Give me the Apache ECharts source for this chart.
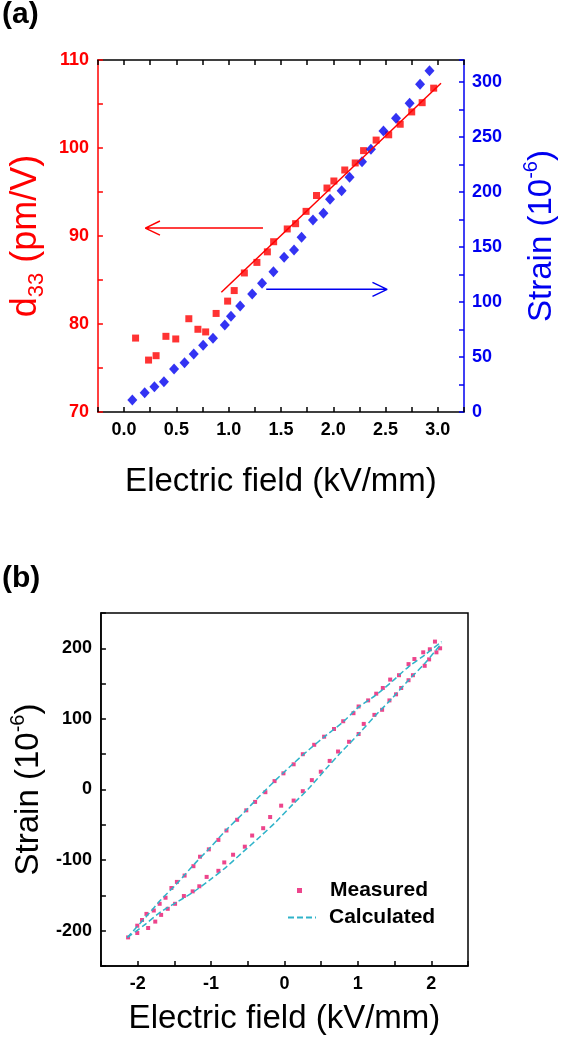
<!DOCTYPE html>
<html>
<head>
<meta charset="utf-8">
<script src="https://cdn.jsdelivr.net/npm/echarts@6/dist/echarts.min.js"></script>
<style>html,body{margin:0;padding:0;background:#fff;}#c{width:566px;height:1050px;}</style>
</head>
<body>
<div id="c"></div>
<script>
// ---------- Panel (a) data ----------
const d33X = [0.11,0.234,0.306,0.40,0.494,0.619,0.706,0.78,0.88,0.99,1.053,1.15,1.27,1.37,1.43,1.56,1.64,1.74,1.84,1.94,2.006,2.11,2.21,2.29,2.41,2.53,2.64,2.75,2.85,2.96];
const d33Y = [78.4,75.9,76.4,78.6,78.3,80.6,79.4,79.1,81.2,82.6,83.8,85.8,87.0,88.2,89.35,90.8,91.4,92.8,94.6,95.45,96.25,97.5,98.3,99.7,100.9,101.5,102.7,104.1,105.15,106.8];
const strainX = [0.079,0.197,0.29,0.381,0.478,0.578,0.666,0.756,0.85,0.963,1.022,1.11,1.225,1.319,1.428,1.53,1.625,1.697,1.806,1.906,1.969,2.08,2.156,2.275,2.36,2.48,2.6,2.73,2.83,2.92];
const strainY = [10.9,17.6,23.0,27.6,39.1,44.8,52.7,60.6,67,79.1,87,96.4,107.3,117,127.5,140.6,147.3,158.8,174.5,180.6,193.4,201.2,213.4,227.5,238.8,255.5,267,280.6,297.9,310.3];
const d33Fit = [[0.93, 83.6], [3.03, 107.35]];
// arrows (data units): tail, tip, arm, tip, arm
const redArrow = [[1.328, 90.9], [0.203, 90.9], [0.343, 91.7], [0.203, 90.9], [0.343, 90.1]];
const blueArrow = [[1.359, 111.5], [2.515, 111.5], [2.375, 117.9], [2.515, 111.5], [2.375, 105.1]];

// ---------- Panel (b) data ----------
const measUpperX = [2.05,1.98,1.89,1.77,1.69,1.56,1.44,1.34,1.25,1.14,1.01,0.94,0.80,0.675,0.54,0.405,0.25,0.125,-0.014,-0.135,-0.26,-0.40,-0.52,-0.645,-0.79,-0.90,-1.03,-1.15,-1.24,-1.36,-1.465,-1.54,-1.62,-1.70,-1.78,-1.88,-1.94,-2.005,-2.13];
const measUpperY = [209.5,198.6,194.3,184.8,177.6,161.9,155.7,143.8,135.7,126.2,117.6,108.1,96.7,85.7,74.8,63.3,50,35.7,22.9,11.9,-3.8,-17.6,-29.5,-42.9,-58.1,-71.4,-84.8,-95.2,-108.6,-121.9,-130.9,-139.5,-153.3,-161.9,-171.4,-176.2,-184.8,-192.9,-209.5];
const measLowerX = [-2.005,-1.857,-1.76,-1.68,-1.59,-1.49,-1.37,-1.25,-1.16,-1.06,-0.90,-0.82,-0.70,-0.54,-0.44,-0.29,-0.195,-0.045,0.125,0.25,0.373,0.495,0.616,0.73,0.88,1.01,1.08,1.225,1.33,1.43,1.52,1.59,1.69,1.75,1.91,1.97,2.07,2.12];
const measLowerY = [-203.3,-196.2,-187.1,-177.6,-169,-161.9,-150.9,-144.3,-137.1,-123.8,-115.2,-103.3,-92.4,-81,-65.2,-54.8,-39,-22.9,-15.7,-2.4,13.3,25.2,40.5,53.8,67.6,78.6,92.9,105.7,112.9,126.2,134.8,143.8,154.8,161.9,175.2,184.3,194.3,200];
const calcUpperX = [-2.14,-1.87,-1.69,-1.465,-1.24,-1.01,-0.79,-0.56,-0.34,-0.11,0.11,0.34,0.56,0.79,1.01,1.24,1.46,1.69,1.91,2.14];
const calcUpperY = [-209.5,-178.6,-157,-133.3,-107,-82,-57,-33.3,-9.5,14.3,35.7,57,76,95,116.7,133.3,152.4,173.8,190.5,209.5];
const calcLowerX = [-2.14,-1.92,-1.69,-1.465,-1.24,-1.01,-0.79,-0.56,-0.34,-0.11,0.11,0.34,0.56,0.79,1.01,1.24,1.46,1.69,1.91,2.14];
const calcLowerY = [-209.5,-192.9,-173.8,-159.5,-145.2,-127.6,-109.5,-88,-67.6,-45.2,-21.4,2.4,28.6,54.8,78.6,104.8,128.6,154.8,178.6,207];

// ---------- helpers ----------
const FONT = "'Liberation Sans', Arial, sans-serif";
const zip = (xs, ys) => xs.map((x, i) => [x, ys[i]]);
function every(step, dec, lo, hi) {
  return function (v) {
    const k = v / step;
    if (Math.abs(k - Math.round(k)) > 1e-6 || v < lo - 1e-9 || v > hi + 1e-9) return '';
    return dec > 0 ? v.toFixed(dec) : String(Math.round(v));
  };
}
const RED = '#ff0000', BLUE = '#0000f0', BLACK = '#000000', CYAN = '#2fb3c9', PINK = '#e8166f';
function tick(color) { return { show: true, inside: true, length: 5, lineStyle: { color: color, width: 1.5 } }; }
function line(color) { return { show: true, onZero: false, lineStyle: { color: color, width: 1.5 } }; }
function lbl(color, fmt, margin) { return { color: color, fontSize: 18, fontWeight: 'bold', fontFamily: FONT, formatter: fmt, margin: margin }; }
function vname(color, size, sub) {
  const small = Math.round(size * 0.62);
  return { color: color, fontFamily: FONT,
    rich: { n: { fontSize: size, lineHeight: size + 8, color: color, fontFamily: FONT },
            s: { fontSize: small, lineHeight: small, verticalAlign: sub ? 'bottom' : 'top', color: color, fontFamily: FONT } } };
}

const chart = echarts.init(document.getElementById('c'), null, { renderer: 'canvas' });
chart.setOption({
  animation: false,
  backgroundColor: '#fff',
  title: [
    { text: '(a)', left: 2, top: 0, padding: 0, textStyle: { fontSize: 30, fontWeight: 'bold', color: BLACK, fontFamily: FONT } },
    { text: '(b)', left: 2, top: 564, padding: 0, textStyle: { fontSize: 30, fontWeight: 'bold', color: BLACK, fontFamily: FONT } }
  ],
  grid: [
    { left: 97, right: 98, top: 60, height: 352, containLabel: false },
    { left: 97, right: 98, top: 613, height: 353, containLabel: false, show: true, borderColor: BLACK, borderWidth: 1.5, backgroundColor: 'transparent' }
  ],
  legend: [
    { data: [{ name: 'Measured', icon: 'rect' }], left: 297, top: 880, padding: 0, itemWidth: 5, itemHeight: 5,
      textStyle: { fontSize: 21, fontWeight: 'bold', color: BLACK, fontFamily: FONT, padding: [0, 0, 0, 23] } },
    { data: ['Calculated'], left: 287, top: 907, padding: 0, itemWidth: 28, itemHeight: 14,
      itemStyle: { opacity: 0 },
      textStyle: { fontSize: 21, fontWeight: 'bold', color: BLACK, fontFamily: FONT, padding: [0, 0, 0, 8] } }
  ],
  xAxis: [
    { type: 'value', gridIndex: 0, position: 'bottom', min: -0.25, max: 3.25, interval: 0.25,
      axisLine: line(BLACK), axisTick: tick(BLACK), splitLine: { show: false },
      axisLabel: lbl(BLACK, every(0.5, 1, 0, 3), 9),
      name: 'Electric field (kV/mm)', nameLocation: 'middle', nameGap: 53,
      nameTextStyle: { fontSize: 33, color: BLACK, fontFamily: FONT } },
    { type: 'value', gridIndex: 0, position: 'top', min: -0.25, max: 3.25, interval: 0.25,
      axisLine: line(BLACK), axisTick: tick(BLACK), splitLine: { show: false }, axisLabel: { show: false } },
    { type: 'value', gridIndex: 1, position: 'bottom', min: -2.5, max: 2.5, interval: 0.5,
      axisLine: line(BLACK), axisTick: tick(BLACK), splitLine: { show: false },
      axisLabel: lbl(BLACK, every(1, 0, -2, 2), 9),
      name: 'Electric field (kV/mm)', nameLocation: 'middle', nameGap: 36,
      nameTextStyle: { fontSize: 33, color: BLACK, fontFamily: FONT } }
  ],
  yAxis: [
    { type: 'value', gridIndex: 0, position: 'left', min: 70, max: 110, interval: 5,
      axisLine: line(RED), axisTick: tick(RED), splitLine: { show: false },
      axisLabel: lbl(RED, every(10, 0, 70, 110), 9),
      name: '{n|d}{s|33}{n| (pm/V)}', nameLocation: 'middle', nameGap: 48,
      nameTextStyle: vname(RED, 36, true) },
    { type: 'value', gridIndex: 0, position: 'right', min: 0, max: 320, interval: 25,
      axisLine: line(BLUE), axisTick: tick(BLUE), splitLine: { show: false },
      axisLabel: lbl(BLUE, every(50, 0, 0, 300), 8),
      name: '{n|Strain (10}{s|-6}{n|)}', nameLocation: 'middle', nameGap: 57,
      nameTextStyle: vname(BLUE, 33, false) },
    { type: 'value', gridIndex: 1, position: 'left', min: -250, max: 250, interval: 50,
      axisLine: line(BLACK), axisTick: tick(BLACK), splitLine: { show: false },
      axisLabel: lbl(BLACK, every(100, 0, -200, 200), 9),
      name: '{n|Strain (10}{s|-6}{n|)}', nameLocation: 'middle', nameGap: 46,
      nameTextStyle: vname(BLACK, 33, false) }
  ],
  series: [
    { name: 'd33', type: 'scatter', xAxisIndex: 0, yAxisIndex: 0, data: zip(d33X, d33Y),
      symbol: 'rect', symbolSize: 7, itemStyle: { color: RED }, silent: true },
    { name: 'fit', type: 'line', xAxisIndex: 0, yAxisIndex: 0, data: d33Fit, showSymbol: false, symbol: 'none',
      lineStyle: { color: RED, width: 1.5 }, silent: true },
    { name: 'arrowR', type: 'line', xAxisIndex: 0, yAxisIndex: 0, data: redArrow, symbol: 'none',
      lineStyle: { color: RED, width: 1.5 }, silent: true },
    { name: 'strain', type: 'scatter', xAxisIndex: 0, yAxisIndex: 1, data: zip(strainX, strainY),
      symbol: 'diamond', symbolSize: [10, 11], itemStyle: { color: BLUE }, silent: true },
    { name: 'arrowB', type: 'line', xAxisIndex: 0, yAxisIndex: 1, data: blueArrow, symbol: 'none',
      lineStyle: { color: BLUE, width: 1.5 }, silent: true },
    { name: 'Calculated', type: 'line', xAxisIndex: 2, yAxisIndex: 2, data: zip(calcUpperX, calcUpperY), symbol: 'none',
      smooth: 0.3, itemStyle: { color: CYAN }, lineStyle: { color: CYAN, width: 1.5, type: [6, 3] }, silent: true },
    { name: 'Calculated', type: 'line', xAxisIndex: 2, yAxisIndex: 2, data: zip(calcLowerX, calcLowerY), symbol: 'none',
      smooth: 0.3, itemStyle: { color: CYAN }, lineStyle: { color: CYAN, width: 1.5, type: [6, 3] }, silent: true },
    { name: 'Measured', type: 'scatter', xAxisIndex: 2, yAxisIndex: 2,
      data: zip(measUpperX, measUpperY).concat(zip(measLowerX, measLowerY)),
      symbol: 'rect', symbolSize: 4, itemStyle: { color: PINK }, silent: true }
  ]
});
</script>
</body>
</html>
